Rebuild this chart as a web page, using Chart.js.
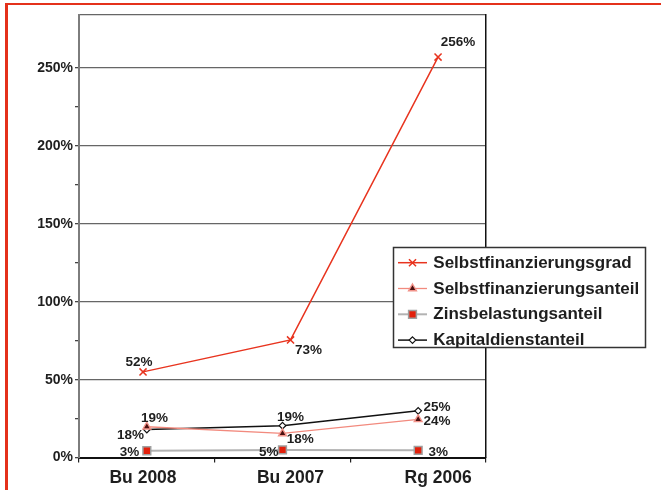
<!DOCTYPE html>
<html><head><meta charset="utf-8">
<script src="https://cdn.jsdelivr.net/npm/chart.js@4.4.1/dist/chart.umd.min.js"></script>
<style>
html,body{margin:0;padding:0;background:#fff;}
#wrap{position:relative;width:661px;height:490px;overflow:hidden;}
#frame{position:absolute;left:5px;top:3px;right:-10px;bottom:-10px;border-top:2px solid #e4311b;border-left:3px solid #e4311b;pointer-events:none;}
canvas{position:absolute;left:0;top:0;}
</style></head><body>
<div id="wrap"><canvas id="c" width="661" height="490"></canvas><div id="frame"></div></div>
<script>
const categories = ['Bu 2008', 'Bu 2007', 'Rg 2006'];
const selbstfinanzierungsgrad = [55, 75.5, 257];
const selbstfinanzierungsanteil = [19.8, 15.5, 24.5];
const zinsbelastungsanteil = [4.4, 4.9, 4.7];
const kapitaldienstanteil = [18, 20.5, 30];
const gradLabels = ['52%', '73%', '256%'];
const anteilLabels = ['19%', '18%', '24%'];
const zinsLabels = ['3%', '5%', '3%'];
const kapitalLabels = ['18%', '19%', '25%'];
const yTicks = [0, 50, 100, 150, 200, 250];
const yMax = 284;

const FONT = "'Liberation Sans', Arial, sans-serif";
const TEXT = '#1e1e1e';

function drawMarker(ctx, style, x, y, r, fill, stroke, lw) {
  ctx.save();
  ctx.beginPath();
  ctx.lineWidth = lw;
  ctx.strokeStyle = stroke;
  ctx.fillStyle = fill;
  if (style === 'crossRot') {
    const d = r * Math.SQRT1_2;
    ctx.moveTo(x - d, y - d); ctx.lineTo(x + d, y + d);
    ctx.moveTo(x - d, y + d); ctx.lineTo(x + d, y - d);
    ctx.stroke();
  } else if (style === 'triangle') {
    ctx.moveTo(x, y - r);
    ctx.lineTo(x + 0.866 * r, y + 0.5 * r);
    ctx.lineTo(x - 0.866 * r, y + 0.5 * r);
    ctx.closePath(); ctx.fill(); ctx.stroke();
  } else if (style === 'rect') {
    const s = r * Math.SQRT1_2;
    ctx.rect(x - s, y - s, 2 * s, 2 * s); ctx.fill(); ctx.stroke();
  } else if (style === 'rectRot') {
    ctx.moveTo(x, y - r); ctx.lineTo(x + r, y); ctx.lineTo(x, y + r); ctx.lineTo(x - r, y);
    ctx.closePath(); ctx.fill(); ctx.stroke();
  }
  ctx.restore();
}

const overlay = {
  id: 'overlay',
  afterDatasetsDraw(chart) {
    const ctx = chart.ctx;
    // value labels
    ctx.save();
    ctx.font = 'bold 13.5px ' + FONT;
    ctx.fillStyle = TEXT;
    ctx.textBaseline = 'alphabetic';
    chart.data.datasets.forEach((ds, di) => {
      const meta = chart.getDatasetMeta(di);
      meta.data.forEach((pt, j) => {
        const [align, dx, dy] = ds.labelPos[j];
        ctx.textAlign = align;
        ctx.fillText(ds.valueLabels[j], pt.x + dx, pt.y + dy + 0.36 * 13.5);
      });
    });
    ctx.restore();
    // legend
    const L = 393.5, T = 247.5, W = 252, H = 100;
    ctx.save();
    ctx.fillStyle = '#fff';
    ctx.fillRect(L, T, W, H);
    ctx.strokeStyle = '#333';
    ctx.lineWidth = 1.5;
    ctx.strokeRect(L, T, W, H);
    ctx.font = 'bold 17px ' + FONT;
    ctx.fillStyle = TEXT;
    ctx.textAlign = 'left';
    ctx.textBaseline = 'alphabetic';
    chart.data.datasets.forEach((ds, i) => {
      const cy = 261.7 + 25.8 * i;
      const ly = cy + 1;
      ctx.beginPath();
      ctx.strokeStyle = ds.borderColor;
      ctx.lineWidth = ds.borderWidth;
      ctx.moveTo(398, ly); ctx.lineTo(427, ly); ctx.stroke();
      drawMarker(ctx, ds.pointStyle, 412.5, ly, ds.pointRadius, ds.pointBackgroundColor, ds.pointBorderColor, ds.pointBorderWidth);
      ctx.fillStyle = TEXT;
      ctx.fillText(ds.label, 433.3, cy + 0.358 * 17);
    });
    ctx.restore();
  }
};

new Chart(document.getElementById('c'), {
  type: 'line',
  data: {
    labels: categories,
    datasets: [
      {
        label: 'Selbstfinanzierungsgrad',
        data: selbstfinanzierungsgrad.map((v, i) => ({ x: i, y: v })),
        xAxisID: 'x2', yAxisID: 'y',
        borderColor: '#e8341f', borderWidth: 1.5,
        pointStyle: 'crossRot', pointRadius: 5, pointBorderWidth: 1.5,
        pointBorderColor: '#e8341f', pointBackgroundColor: '#e8341f',
        valueLabels: gradLabels,
        labelPos: [['center', -4, -11], ['left', 4.5, 9], ['left', 2.7, -15.5]]
      },
      {
        label: 'Selbstfinanzierungsanteil',
        data: selbstfinanzierungsanteil,
        xAxisID: 'x', yAxisID: 'y',
        borderColor: '#f28a7e', borderWidth: 1.3,
        pointStyle: 'triangle', pointRadius: 4.5, pointBorderWidth: 1.4,
        pointBorderColor: '#f2938a', pointBackgroundColor: '#4a1010',
        valueLabels: anteilLabels,
        labelPos: [['center', 7.7, -10], ['left', 4.3, 4.8], ['left', 5.4, 0.6]]
      },
      {
        label: 'Zinsbelastungsanteil',
        data: zinsbelastungsanteil,
        xAxisID: 'x', yAxisID: 'y',
        borderColor: '#b3b3b3', borderWidth: 2,
        pointStyle: 'rect', pointRadius: 5.5, pointBorderWidth: 1.5,
        pointBorderColor: '#a0a0a0', pointBackgroundColor: '#e3200c',
        valueLabels: zinsLabels,
        labelPos: [['right', -7.5, 0.3], ['right', -4.1, 0.7], ['left', 10.4, 0.4]]
      },
      {
        label: 'Kapitaldienstanteil',
        data: kapitaldienstanteil,
        xAxisID: 'x', yAxisID: 'y',
        borderColor: '#111111', borderWidth: 1.5,
        pointStyle: 'rectRot', pointRadius: 3.3, pointBorderWidth: 1.2,
        pointBorderColor: '#111111', pointBackgroundColor: '#ffffff',
        valueLabels: kapitalLabels,
        labelPos: [['right', -2.8, 4.7], ['center', 7.9, -9.7], ['left', 5.4, -5.2]]
      }
    ]
  },
  options: {
    responsive: false,
    animation: false,
    events: [],
    layout: { padding: { top: 15, left: 0, right: 0, bottom: 0 } },
    plugins: { legend: { display: false }, tooltip: { enabled: false } },
    elements: { line: { tension: 0 } },
    scales: {
      x: {
        type: 'category', position: 'bottom', offset: true, weight: 0,
        grid: { offset: true, drawOnChartArea: false, drawTicks: true, tickLength: 5, color: '#222', lineWidth: 1.2 },
        ticks: { display: false },
        border: { display: true, color: '#111', width: 2 },
        afterFit(s) { s.height = 6; }
      },
      x2: {
        type: 'linear', position: 'bottom', weight: 1, min: -0.434, max: 2.325,
        grid: { display: false, drawTicks: false },
        border: { display: false },
        afterBuildTicks(s) { s.ticks = categories.map((c, i) => ({ value: i })); },
        ticks: {
          autoSkip: false, maxRotation: 0, padding: 3.6, color: TEXT,
          font: { family: FONT, size: 17.5, weight: 'bold' },
          callback: (v) => categories[v] !== undefined ? categories[v] : ''
        },
        afterFit(s) { s.height = 26.4; }
      },
      y: {
        type: 'linear', position: 'left', min: 0, max: yMax,
        ticks: {
          stepSize: 25, autoSkip: false, padding: 2, color: TEXT,
          font: { family: FONT, size: 14, weight: 'bold' },
          callback: (v) => yTicks.includes(v) ? v + '%' : ''
        },
        grid: {
          color: (c) => (c.tick && (c.tick.value % 50 === 0 || c.tick.value === yMax)) ? '#666' : 'rgba(0,0,0,0)',
          tickColor: (c) => (c.tick && c.tick.value === yMax) ? 'rgba(0,0,0,0)' : '#444',
          lineWidth: 1.3, tickLength: 4
        },
        border: { color: '#7d7d7d', width: 2 },
        afterFit(s) { s.width = 79; }
      },
      y2: {
        type: 'linear', position: 'right', min: 0, max: 1,
        grid: { display: false, drawTicks: false },
        ticks: { display: false },
        border: { display: true, color: '#111', width: 1.5 },
        afterFit(s) { s.width = 175; }
      }
    }
  },
  plugins: [overlay]
});
</script>
</body></html>
